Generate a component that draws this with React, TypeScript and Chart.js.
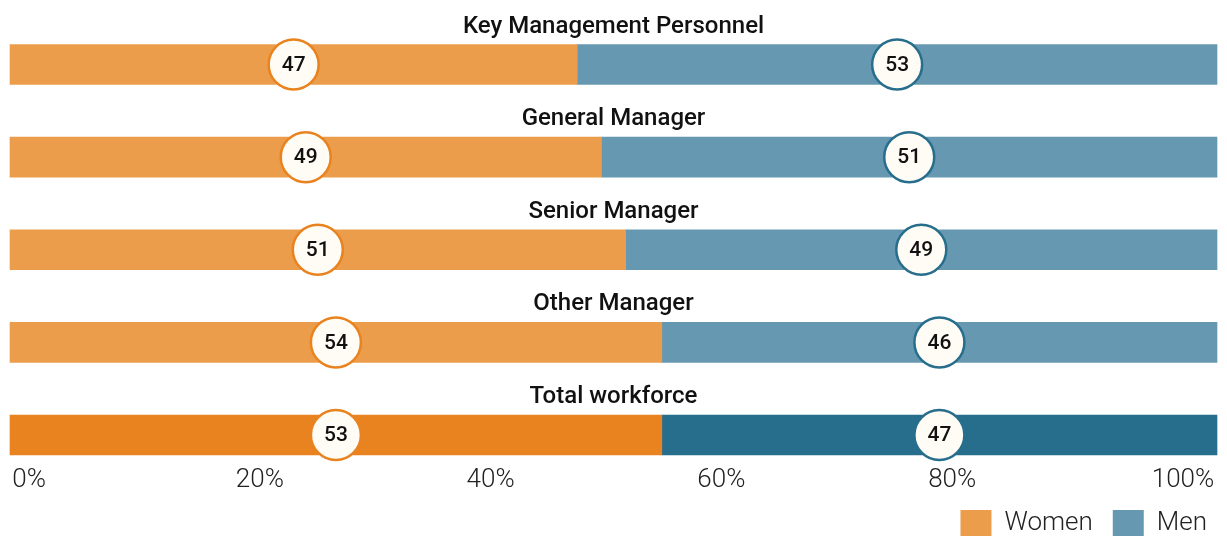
import React, { useEffect, useRef } from 'react';
import { Chart, registerables } from 'chart.js';

Chart.register(...registerables);

const categories = [
  'Key Management Personnel',
  'General Manager',
  'Senior Manager',
  'Other Manager',
  'Total workforce',
];
const womenValues = [47, 49, 51, 54, 54];
const menValues = [53, 51, 49, 46, 46];
const womenLabels = [47, 49, 51, 54, 53];
const menLabels = [53, 51, 49, 46, 47];
const tickValues = [0, 20, 40, 60, 80, 100];
const highlighted = 'Total workforce';

const tickAxisMin = -1.65;
const tickAxisMax = 102.95;

const WOMEN = '#EC9D4B';
const WOMEN_DARK = '#E8831F';
const MEN = '#6699B1';
const MEN_DARK = '#276E8D';
const CIRCLE_FILL = '#FFFCF5';

const overlayPlugin = {
  id: 'overlay',
  afterDatasetsDraw(chart: any) {
    const ctx = chart.ctx as CanvasRenderingContext2D;
    const ys = chart.scales.y;
    const area = chart.chartArea;
    ctx.save();
    ctx.font = '500 24px Roboto';
    ctx.fillStyle = '#111111';
    ctx.textAlign = 'center';
    ctx.textBaseline = 'alphabetic';
    categories.forEach((c, i) => {
      const y = ys.getPixelForValue(i);
      ctx.fillText(c, (area.left + area.right) / 2, y - 32);
    });
    const labelSets = [womenLabels, menLabels];
    const strokes = [WOMEN_DARK, MEN_DARK];
    chart.data.datasets.forEach((_ds: any, di: number) => {
      const meta = chart.getDatasetMeta(di);
      meta.data.forEach((bar: any, i: number) => {
        const { x, base, y } = bar.getProps(['x', 'base', 'y'], true);
        const cx = (x + base) / 2;
        ctx.beginPath();
        ctx.arc(cx, y, 25, 0, Math.PI * 2);
        ctx.fillStyle = CIRCLE_FILL;
        ctx.fill();
        ctx.lineWidth = 2.5;
        ctx.strokeStyle = strokes[di];
        ctx.stroke();
        ctx.fillStyle = '#111111';
        ctx.font = '500 21px Roboto';
        ctx.textBaseline = 'middle';
        ctx.textAlign = 'center';
        ctx.fillText(String(labelSets[di][i]), cx, y + 1);
      });
    });
    ctx.restore();
  },
};

export default function App() {
  const canvasRef = useRef<HTMLCanvasElement | null>(null);

  useEffect(() => {
    document.body.style.margin = '0';
    document.body.style.overflow = 'hidden';
    document.documentElement.style.overflow = 'hidden';
    const canvas = canvasRef.current;
    if (!canvas) return;
    Chart.defaults.font.family = 'Roboto';
    const chart = new Chart(canvas, {
      type: 'bar',
      data: {
        labels: categories,
        datasets: [
          {
            label: 'Women',
            data: womenValues,
            backgroundColor: (c: any) =>
              categories[c.dataIndex] === highlighted ? WOMEN_DARK : WOMEN,
            borderWidth: 0,
            barThickness: 40,
            clip: false as any,
          },
          {
            label: 'Men',
            data: menValues,
            backgroundColor: (c: any) =>
              categories[c.dataIndex] === highlighted ? MEN_DARK : MEN,
            borderWidth: 0,
            barThickness: 40,
            clip: false as any,
          },
        ],
      },
      plugins: [overlayPlugin],
      options: {
        indexAxis: 'y',
        responsive: false,
        animation: false,
        devicePixelRatio: 1,
        layout: { padding: { top: 64.5, left: 10, right: 0, bottom: 0 } },
        scales: {
          x: { stacked: true, min: 0, max: 100, display: false },
          x2: {
            type: 'linear',
            position: 'bottom',
            min: tickAxisMin,
            max: tickAxisMax,
            grid: { display: false, drawTicks: false },
            border: { display: false },
            afterBuildTicks: (s: any) => {
              s.ticks = tickValues.map((v) => ({ value: v }));
            },
            afterFit: (s: any) => {
              s.height = 55;
            },
            ticks: {
              padding: 0,
              color: '#222222',
              font: { family: 'Roboto', size: 26, weight: '300', lineHeight: '90px' } as any,
              callback: (v: any) => `${v}%`,
              maxRotation: 0,
              autoSkip: false,
            },
          },
          y: {
            type: 'category',
            stacked: true,
            position: 'right',
            offset: false,
            grid: { display: false },
            border: { display: false },
            ticks: { display: false },
            afterFit: (s: any) => {
              s.width = 10;
            },
          },
        },
        plugins: {
          legend: {
            position: 'bottom',
            align: 'end',
            labels: {
              boxWidth: 31,
              boxHeight: 26,
              padding: 20,
              color: '#222222',
              font: { family: 'Roboto', size: 26, weight: '300' } as any,
            },
          },
          tooltip: { enabled: false },
        },
      } as any,
    });
    return () => chart.destroy();
  }, []);

  return (
    <div style={{ width: 1227, height: 536, overflow: 'hidden' }}>
      <canvas ref={canvasRef} width={1227} height={546} style={{ display: 'block' }} />
    </div>
  );
}
